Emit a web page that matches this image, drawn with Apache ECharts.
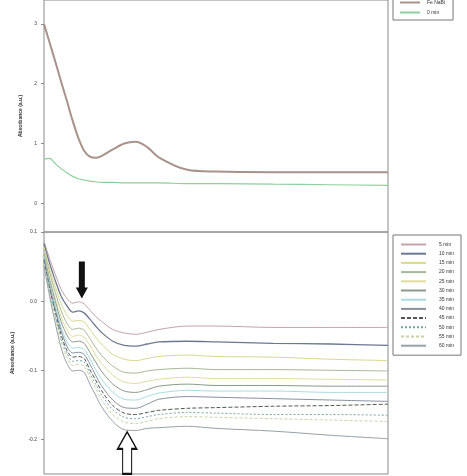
<!DOCTYPE html>
<html>
<head>
<meta charset="utf-8">
<script src="https://cdn.jsdelivr.net/npm/echarts@6/dist/echarts.min.js"></script>
<style>
    html, body { margin: 0; padding: 0; background: #fff; }
    #chart { width: 467px; height: 476px; }
</style>
</head>
<body>
<div id="chart"></div>
<script>
    // wavelength (nm), shared by both panels
    var wavelengths = [200, 210, 220, 230, 240, 250, 260, 270, 280, 290, 300, 320, 340, 360, 380, 400, 450, 500, 600, 700, 800]

    // top panel
    var topNames = ['Fe NaBi', '0 min']
    var topFe = [3.0, 2.68, 2.36, 2.03, 1.71, 1.38, 1.09, 0.88, 0.78, 0.76, 0.79, 0.9, 1.0, 1.03, 0.94, 0.77, 0.56, 0.53, 0.52, 0.52, 0.52]
    var topZero = [0.74, 0.75, 0.66, 0.58, 0.51, 0.45, 0.41, 0.39, 0.37, 0.36, 0.35, 0.35, 0.34, 0.34, 0.34, 0.34, 0.33, 0.33, 0.32, 0.31, 0.30]
    var topTicks = [0, 1, 2, 3]

    // bottom panel, one array per time
    var times = ['5 min', '10 min', '15 min', '20 min', '25 min', '30 min', '35 min', '40 min', '45 min', '50 min', '55 min', '60 min']
    var t5 = [0.087, 0.061, 0.038, 0.017, 0.004, -0.003, -0.001, -0.004, -0.013, -0.022, -0.029, -0.041, -0.046, -0.048, -0.045, -0.041, -0.036, -0.036, -0.038, -0.038, -0.038]
    var t10 = [0.083, 0.054, 0.029, 0.007, -0.007, -0.016, -0.014, -0.017, -0.026, -0.036, -0.045, -0.058, -0.064, -0.065, -0.062, -0.059, -0.058, -0.059, -0.061, -0.062, -0.064]
    var t15 = [0.078, 0.046, 0.020, -0.004, -0.020, -0.029, -0.028, -0.030, -0.041, -0.052, -0.062, -0.077, -0.084, -0.086, -0.083, -0.080, -0.078, -0.080, -0.081, -0.084, -0.086]
    var t20 = [0.074, 0.041, 0.012, -0.014, -0.032, -0.041, -0.039, -0.042, -0.054, -0.067, -0.078, -0.094, -0.103, -0.104, -0.101, -0.099, -0.097, -0.099, -0.099, -0.100, -0.101]
    var t25 = [0.071, 0.035, 0.004, -0.023, -0.041, -0.051, -0.049, -0.052, -0.064, -0.078, -0.090, -0.107, -0.117, -0.119, -0.116, -0.113, -0.110, -0.112, -0.112, -0.113, -0.114]
    var t30 = [0.068, 0.030, -0.001, -0.030, -0.049, -0.059, -0.058, -0.061, -0.074, -0.088, -0.101, -0.120, -0.130, -0.132, -0.128, -0.123, -0.120, -0.122, -0.122, -0.123, -0.123]
    var t35 = [0.065, 0.026, -0.007, -0.038, -0.058, -0.068, -0.067, -0.070, -0.083, -0.099, -0.112, -0.132, -0.142, -0.143, -0.138, -0.133, -0.129, -0.130, -0.130, -0.132, -0.132]
    var t40 = [0.062, 0.022, -0.013, -0.043, -0.065, -0.075, -0.074, -0.077, -0.091, -0.107, -0.122, -0.143, -0.154, -0.155, -0.149, -0.142, -0.138, -0.139, -0.141, -0.143, -0.145]
    var t45 = [0.059, 0.017, -0.017, -0.049, -0.071, -0.081, -0.080, -0.083, -0.099, -0.114, -0.129, -0.151, -0.162, -0.164, -0.161, -0.158, -0.155, -0.154, -0.152, -0.151, -0.149]
    var t50 = [0.057, 0.014, -0.022, -0.054, -0.075, -0.087, -0.086, -0.088, -0.104, -0.120, -0.135, -0.157, -0.168, -0.170, -0.167, -0.164, -0.161, -0.162, -0.164, -0.164, -0.165]
    var t55 = [0.054, 0.010, -0.026, -0.059, -0.081, -0.093, -0.091, -0.094, -0.110, -0.126, -0.142, -0.164, -0.175, -0.177, -0.174, -0.170, -0.167, -0.168, -0.170, -0.172, -0.174]
    var t60 = [0.051, 0.006, -0.033, -0.068, -0.090, -0.101, -0.100, -0.103, -0.120, -0.136, -0.152, -0.174, -0.186, -0.187, -0.184, -0.183, -0.181, -0.184, -0.188, -0.194, -0.199]
    var bottomTicks = [-0.2, -0.1, 0, 0.1]

    // arrows: [wavelength, absorbance] of the tip
    var shoulderArrow = [266, 0.004]
    var minimumArrow = [345, -0.189]

    var bottomData = [t5, t10, t15, t20, t25, t30, t35, t40, t45, t50, t55, t60]
    var bottomColors = ['#c4a2aa', '#6c7890', '#d8d890', '#a8b898', '#e2dca0', '#8a9a88', '#a8dce0', '#8890a0', '#505a50', '#78a8a0', '#c8d4a8', '#98a0a8']
    var bottomTypes = ['solid', 'solid', 'solid', 'solid', 'solid', 'solid', 'solid', 'solid', [4, 2], [2, 2], [3, 2], 'solid']
    var bottomWidths = [1, 1.3, 1, 1, 1, 1, 1, 1, 1, 1, 1, 1]

    function pairs (ys) {
        return wavelengths.map(function (w, i) { return [w, ys[i]] })
    }

    var font = 'Liberation Sans, Arial, sans-serif'
    var axisGray = '#8a8a8a'

    var series = [
        {
            name: topNames[0], type: 'line', xAxisIndex: 0, yAxisIndex: 0,
            symbol: 'none', smooth: 0.3,
            lineStyle: { color: '#a8928a', width: 2 },
            itemStyle: { color: '#a8928a' },
            data: pairs(topFe)
        },
        {
            name: topNames[1], type: 'line', xAxisIndex: 0, yAxisIndex: 0,
            symbol: 'none', smooth: 0.3,
            lineStyle: { color: '#8cd09c', width: 1.2 },
            itemStyle: { color: '#8cd09c' },
            data: pairs(topZero)
        }
    ]

    bottomData.forEach(function (ys, i) {
        var s = {
            name: times[i], type: 'line', xAxisIndex: 1, yAxisIndex: 1,
            symbol: 'none', smooth: 0.3,
            lineStyle: { color: bottomColors[i], width: bottomWidths[i], type: bottomTypes[i] },
            itemStyle: { color: bottomColors[i] },
            data: pairs(ys)
        }
        if (i === 0) {
            s.markPoint = {
                silent: true,
                label: { show: false },
                data: [
                    {
                        coord: shoulderArrow,
                        symbol: 'path://M3,0 L9,0 L9,26 L12,26 L6,37 L0,26 L3,26 Z',
                        symbolSize: [12, 37],
                        symbolOffset: [0, '-50%'],
                        itemStyle: { color: '#111' }
                    },
                    {
                        coord: minimumArrow,
                        symbol: 'path://M9.5,0 L19,17 L14,17 L14,42 L5,42 L5,17 L0,17 Z',
                        symbolSize: [19, 42],
                        symbolOffset: [0, '50%'],
                        itemStyle: { color: '#fff', borderColor: '#111', borderWidth: 1.5 }
                    }
                ]
            }
        }
        series.push(s)
    })

    function yAxisFor (gridIndex, min, max, ticks, nameGap, digits) {
        return {
            type: 'value', gridIndex: gridIndex, min: min, max: max,
            name: 'Absorbance (a.u.)', nameLocation: 'middle', nameGap: nameGap,
            nameTextStyle: { fontSize: 5, color: '#333', fontFamily: font, fontWeight: 'bold' },
            axisLine: { show: false },
            axisTick: { show: true, length: 3, customValues: ticks, lineStyle: { color: axisGray } },
            axisLabel: {
                customValues: ticks, margin: 7, fontSize: 5, color: '#444', fontFamily: font,
                formatter: function (v) { return digits ? v.toFixed(digits) : String(Math.round(v)) }
            },
            splitLine: { show: false }
        }
    }

    function xAxisFor (gridIndex) {
        return {
            type: 'value', gridIndex: gridIndex, min: 200, max: 800,
            axisLine: { show: false, onZero: false },
            axisTick: { show: false },
            axisLabel: { show: false },
            splitLine: { show: false }
        }
    }

    var legendBase = {
        orient: 'vertical', left: 393,
        borderColor: '#777', borderWidth: 1,
        itemStyle: { opacity: 0 },
        inactiveBorderWidth: 0
    }

    var option = {
        animation: false,
        backgroundColor: '#fff',
        grid: [
            { left: 44, width: 344, top: -2, height: 234, show: true, borderColor: axisGray, borderWidth: 1 },
            { left: 44, width: 344, top: 232, height: 242, show: true, borderColor: axisGray, borderWidth: 1 }
        ],
        xAxis: [xAxisFor(0), xAxisFor(1)],
        yAxis: [
            yAxisFor(0, -0.48, 3.4, topTicks, 20, 0),
            yAxisFor(1, -0.25, 0.1, bottomTicks, 29, 1)
        ],
        legend: [
            Object.assign({}, legendBase, {
                data: topNames, top: -6,
                itemWidth: 20, itemHeight: 5, itemGap: 5,
                padding: [6, 8, 5, 6],
                textStyle: { fontSize: 5, color: '#333', fontFamily: font, padding: [0, 0, 0, 2] }
            }),
            Object.assign({}, legendBase, {
                data: times, top: 235,
                itemWidth: 25, itemHeight: 6, itemGap: 4.2,
                padding: [7, 7, 7, 7],
                textStyle: { fontSize: 5, color: '#333', fontFamily: font, padding: [0, 0, 0, 8] }
            })
        ],
        series: series
    }

    var chart = echarts.init(document.getElementById('chart'), null, { renderer: 'canvas' })
    chart.setOption(option)
</script>
</body>
</html>
